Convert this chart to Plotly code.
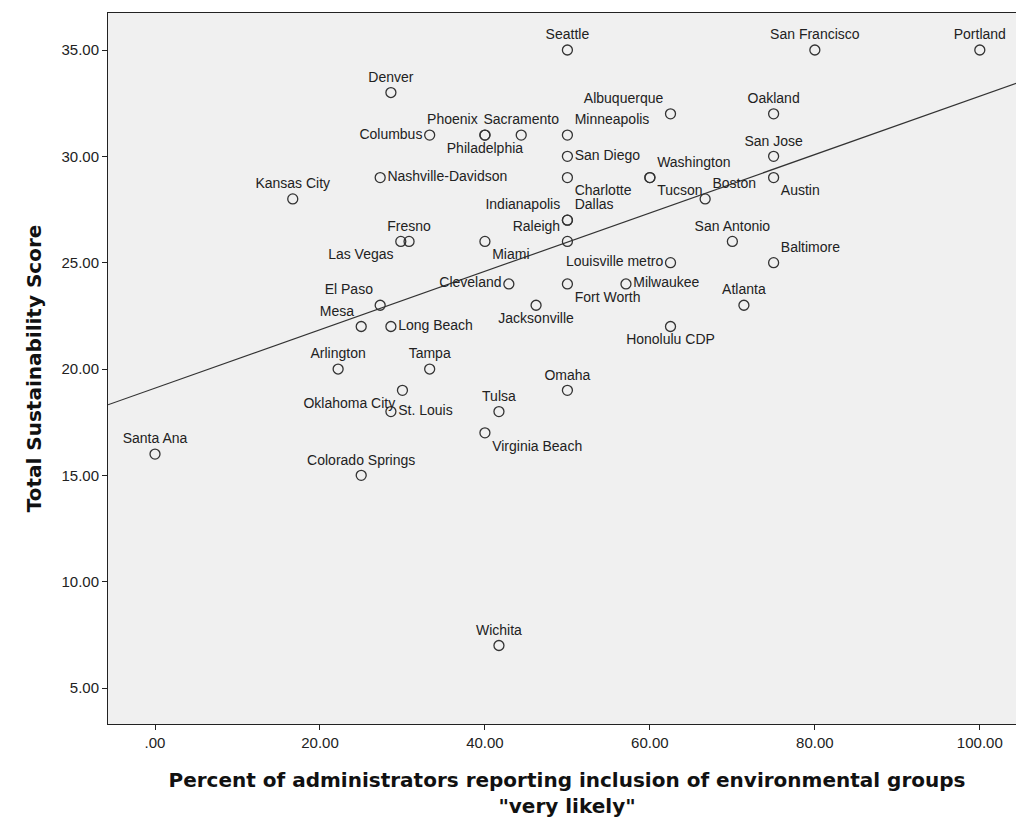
import numpy as np
import plotly.graph_objects as go

cities = ["Seattle", "San Francisco", "Portland", "Denver", "Albuquerque", "Oakland",
          "Columbus", "Phoenix", "Philadelphia", "Sacramento", "Minneapolis", "San Diego",
          "Charlotte", "Nashville-Davidson", "Kansas City", "Indianapolis", "Dallas", "Raleigh",
          "Washington", "Tucson", "Boston", "Austin", "San Jose", "Fresno", "Las Vegas",
          "Miami", "San Antonio", "Baltimore", "Louisville metro", "Cleveland", "Fort Worth",
          "Milwaukee", "Atlanta", "Jacksonville", "El Paso", "Mesa", "Long Beach",
          "Honolulu CDP", "Arlington", "Tampa", "Oklahoma City", "St. Louis", "Tulsa",
          "Omaha", "Virginia Beach", "Santa Ana", "Colorado Springs", "Wichita"]
pct_very_likely = [50, 80, 100, 28.6, 62.5, 75,
                   33.3, 40, 40, 44.4, 50, 50,
                   50, 27.3, 16.7, 50, 50, 50,
                   60, 60, 66.7, 75, 75, 30.8, 29.8,
                   40, 70, 75, 62.5, 42.9, 50,
                   57.1, 71.4, 46.2, 27.3, 25, 28.6,
                   62.5, 22.2, 33.3, 30, 28.6, 41.7,
                   50, 40, 0, 25, 41.7]
sustain_score = [35, 35, 35, 33, 32, 32,
                 31, 31, 31, 31, 31, 30,
                 29, 29, 28, 27, 27, 26,
                 29, 29, 28, 29, 30, 26, 26,
                 26, 26, 25, 25, 24, 24,
                 24, 23, 23, 23, 22, 22,
                 22, 20, 20, 19, 18, 18,
                 19, 17, 16, 15, 7]

label_pos = ["top center", "top center", "top center", "top center", "top left", "top center",
             "middle left", "top left", "bottom center", "top center", "top right", "middle right",
             "bottom right", "middle right", "top center", "top left", "top right", "top left",
             "top right", "bottom right", "top right", "bottom right", "top center", "top center",
             "bottom left", "bottom right", "top center", "top right", "middle left", "middle left",
             "bottom right", "middle right", "top center", "bottom center", "top left", "top left",
             "middle right", "bottom center", "top center", "top center", "bottom left",
             "middle right", "top center", "top center", "bottom right", "top center",
             "top center", "top center"]

x_ticks = [0, 20, 40, 60, 80, 100]
x_ticktext = [".00", "20.00", "40.00", "60.00", "80.00", "100.00"]
y_ticks = [5, 10, 15, 20, 25, 30, 35]
y_ticktext = ["5.00", "10.00", "15.00", "20.00", "25.00", "30.00", "35.00"]

font = "Liberation Sans, Arial, sans-serif"
title_font = "DejaVu Sans, sans-serif"

slope, icpt = np.polyfit(pct_very_likely, sustain_score, 1)
xr = [-5.7, 105.6]

fig = go.Figure()
fig.add_trace(go.Scatter(x=xr, y=[icpt + slope * v for v in xr], mode="lines",
                         line=dict(color="#333333", width=1.2), hoverinfo="skip"))
fig.add_trace(go.Scatter(x=pct_very_likely, y=sustain_score, mode="markers+text",
                         text=cities, textposition=label_pos,
                         textfont=dict(family=font, size=14, color="#222222"),
                         marker=dict(symbol="circle-open", size=10,
                                     line=dict(color="#333333", width=1.3), color="#333333")))

axis_common = dict(showgrid=False, zeroline=False, showline=True, linecolor="#222222",
                   mirror=True, ticks="outside", ticklen=5, tickcolor="#222222",
                   automargin=False,
                   tickfont=dict(family=font, size=15, color="#222222"))
fig.update_layout(
    width=1024, height=822, showlegend=False,
    paper_bgcolor="white", plot_bgcolor="#f0f0f0",
    margin=dict(l=100, r=6, t=5, b=106),
    xaxis=dict(range=xr, tickvals=x_ticks, ticktext=x_ticktext,
               title=dict(text="<b>Percent of administrators reporting inclusion of environmental groups<br>\"very likely\"</b>",
                          font=dict(family=title_font, size=20, color="#111111"), standoff=22),
               **axis_common),
    yaxis=dict(range=[3.31, 36.74], tickvals=y_ticks, ticktext=y_ticktext,
               title=dict(text="<b>Total Sustainability Score</b>",
                          font=dict(family=title_font, size=20, color="#111111"), standoff=14),
               **axis_common),
)
fig.write_html("out.html")
